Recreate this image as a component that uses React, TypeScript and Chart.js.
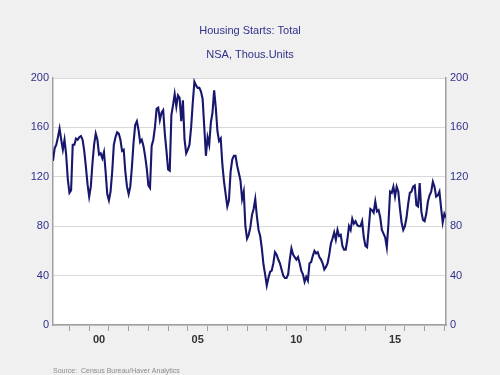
import React, { useEffect, useRef } from 'react';
import { Chart, registerables } from 'chart.js';

Chart.register(...registerables);

const TITLE = 'Housing Starts: Total';
const SUBTITLE = 'NSA, Thous.Units';
const SOURCE = 'Source:  Census Bureau/Haver Analytics';

// Monthly series, first value = March 1998, last = February 2018
const START_YEAR = 1998;
const START_MONTH = 3;
const housingStarts: number[] = [
  // 1998 (Mar-Dec)
  133, 143, 146, 152, 159, 150, 142, 150, 138, 118,
  // 1999
  107, 109, 146, 146, 151, 150, 152, 153, 150, 141, 128, 114,
  // 2000
  104, 112, 131, 146, 155, 150, 138, 139, 135, 140, 124, 106,
  // 2001
  101, 108, 124, 146, 152, 156, 155, 150, 141, 142, 124, 112,
  // 2002
  106, 112, 128, 148, 162, 165, 158, 148, 150, 145, 137, 127,
  // 2003
  113, 111, 145, 150, 160, 175, 176, 166, 172, 174, 155, 141,
  // 2004
  126, 125, 170, 178, 187, 177, 186, 184, 165, 182, 150, 139,
  // 2005
  142, 146, 160, 180, 197, 194, 192, 192, 189, 183, 160, 137,
  // 2006
  152, 146, 164, 172, 190, 176, 157, 149, 151, 130, 116, 106,
  // 2007
  96, 101, 124, 134, 137, 137, 129, 123, 117, 102, 108, 80,
  // 2008
  70, 73, 79, 89, 94, 102, 88, 77, 72, 62, 49, 41,
  // 2009
  32, 38, 43, 44, 50, 59, 57, 53, 50, 45, 40, 38,
  // 2010
  38, 41, 53, 62, 57, 55, 53, 55, 50, 44, 41, 35,
  // 2011
  39, 36, 50, 51, 56, 60, 58, 59, 55, 53, 50, 45,
  // 2012
  47, 50, 57, 66, 70, 75, 69, 77, 72, 73, 64, 61,
  // 2013
  61, 69, 80, 77, 86, 82, 84, 81, 80, 80, 84, 71,
  // 2014
  64, 63, 78, 94, 93, 91, 100, 92, 93, 87, 77, 74,
  // 2015
  71, 63, 82, 108, 107, 112, 104, 112, 108, 94, 83, 77,
  // 2016
  80, 87, 98, 107, 108, 112, 113, 97, 96, 115, 92, 85,
  // 2017
  84, 90, 100, 105, 108, 116, 112, 104, 105, 108, 95, 83,
  // 2018 (Jan-Feb)
  90, 87,
];

const yTickValues = [0, 40, 80, 120, 160, 200];
const xLabelYears = [2000, 2005, 2010, 2015];
const xLabels = ['00', '05', '10', '15'];

const FONT = '"Liberation Sans", Arial, Helvetica, sans-serif';
const TEXT_BLUE = '#30308c';
const AXIS_GRAY = '#a0a0a0';
const GRID_GRAY = '#d9d9d9';
const LINE_NAVY = '#17176e';

const points = housingStarts.map((v, i) => ({
  x: START_YEAR + (START_MONTH - 1 + i) / 12,
  y: v,
}));
const xMin = START_YEAR + (START_MONTH - 1) / 12;
const xMax = START_YEAR + (START_MONTH - 1 + housingStarts.length - 1) / 12;

const bgPlugin = {
  id: 'bgPlugin',
  beforeDraw(chart: any) {
    const { ctx, chartArea: a, width, height } = chart;
    ctx.save();
    ctx.fillStyle = '#f0f0f0';
    ctx.fillRect(0, 0, width, height);
    ctx.fillStyle = '#ffffff';
    ctx.fillRect(a.left, a.top, a.right - a.left, a.bottom - a.top);
    ctx.restore();
  },
  afterDraw(chart: any) {
    const { ctx, chartArea: a } = chart;
    ctx.save();
    ctx.font = `7px ${FONT}`;
    ctx.fillStyle = '#8c8c8c';
    ctx.textBaseline = 'middle';
    ctx.textAlign = 'left';
    ctx.fillText(SOURCE, a.left, 371.5);
    ctx.restore();
  },
};

export default function App() {
  const canvasRef = useRef<HTMLCanvasElement | null>(null);

  useEffect(() => {
    document.body.style.margin = '0';
    document.body.style.background = '#f0f0f0';
    const canvas = canvasRef.current;
    if (!canvas) return;

    const yAxisCommon = {
      min: 0,
      max: 200,
      afterBuildTicks: (s: any) => {
        s.ticks = yTickValues.map((v) => ({ value: v }));
      },
      border: { display: true, color: AXIS_GRAY, width: 1.5 },
      ticks: {
        color: TEXT_BLUE,
        font: { family: FONT, size: 11 },
        padding: 4,
      },
    };

    const chart = new Chart(canvas, {
      type: 'line',
      data: {
        datasets: [
          {
            data: points,
            borderColor: LINE_NAVY,
            borderWidth: 2.1,
            pointRadius: 0,
            tension: 0,
            fill: false,
            yAxisID: 'y',
            xAxisID: 'x',
          },
        ],
      },
      options: {
        responsive: false,
        animation: false,
        devicePixelRatio: 1,
        layout: { padding: 0 },
        plugins: {
          legend: { display: false },
          tooltip: { enabled: false },
          title: {
            display: true,
            text: TITLE,
            color: TEXT_BLUE,
            font: { family: FONT, size: 11, weight: 'normal' },
            padding: { top: 24, bottom: 5 },
          },
          subtitle: {
            display: true,
            text: SUBTITLE,
            color: TEXT_BLUE,
            font: { family: FONT, size: 11, weight: 'normal' },
            padding: { top: 6, bottom: 16.6 },
          },
        },
        scales: {
          x: {
            type: 'linear',
            position: 'bottom',
            min: xMin,
            max: xMax,
            afterBuildTicks: (s: any) => {
              const t: { value: number }[] = [];
              for (let y = Math.ceil(xMin); y <= Math.floor(xMax); y++) t.push({ value: y });
              xLabelYears.forEach((y) => t.push({ value: y + 0.5 }));
              t.sort((a, b) => a.value - b.value);
              s.ticks = t;
            },
            ticks: {
              autoSkip: false,
              maxRotation: 0,
              minRotation: 0,
              padding: 2,
              color: '#333333',
              font: { family: FONT, size: 11, weight: 'bold' },
              callback: (v: any) => {
                const i = xLabelYears.indexOf(Number(v) - 0.5);
                return i >= 0 ? xLabels[i] : '';
              },
            },
            grid: {
              drawOnChartArea: false,
              drawTicks: true,
              tickLength: 6,
              lineWidth: 1,
              tickColor: (ctx: any) =>
                ctx.tick && Number.isInteger(ctx.tick.value) ? AXIS_GRAY : 'rgba(0,0,0,0)',
            },
            border: { display: true, color: AXIS_GRAY, width: 1.5 },
            afterFit: (s: any) => {
              s.height = 50;
            },
          },
          y: {
            ...yAxisCommon,
            position: 'left',
            grid: { color: GRID_GRAY, lineWidth: 1, drawTicks: false },
            afterFit: (s: any) => {
              s.width = 53;
            },
          },
          y2: {
            ...yAxisCommon,
            position: 'right',
            grid: { drawOnChartArea: false, drawTicks: false },
            afterFit: (s: any) => {
              s.width = 54;
            },
          },
        },
      } as any,
      plugins: [bgPlugin],
    });

    return () => {
      chart.destroy();
    };
  }, []);

  return (
    <div style={{ width: 500, height: 375, background: '#f0f0f0' }}>
      <canvas ref={canvasRef} width={500} height={375} style={{ display: 'block' }} />
    </div>
  );
}
